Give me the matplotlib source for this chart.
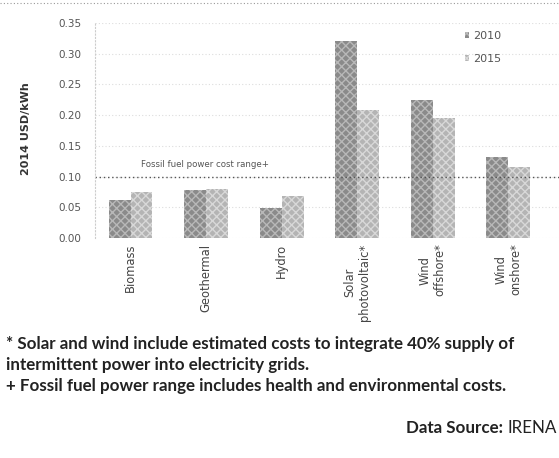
import matplotlib.pyplot as plt
import numpy as np

# values (2014 USD/kWh)
categories = ["Biomass", "Geothermal", "Hydro", "Solar\nphotovoltaic*",
              "Wind\noffshore*", "Wind\nonshore*"]
years = ["2010", "2015"]
cost_2010 = [0.062, 0.078, 0.049, 0.320, 0.224, 0.132]
cost_2015 = [0.075, 0.080, 0.069, 0.209, 0.195, 0.116]
fossil_low = 0.10
yticks = [0.00, 0.05, 0.10, 0.15, 0.20, 0.25, 0.30, 0.35]

notes = [
    "* Solar and wind include estimated costs to integrate 40% supply of",
    "intermittent power into electricity grids.",
    "+ Fossil fuel power range includes health and environmental costs.",
]

fig = plt.figure(figsize=(5.59, 4.58), dpi=100)
ax = fig.add_axes([0.170, 0.480, 0.830, 0.470])

x = np.arange(len(categories))
w = 0.29
ax.bar(x - w / 2, cost_2010, w, color="#8a8a8a", hatch="xxxx",
       edgecolor="#b8b8b8", linewidth=0, label=years[0])
ax.bar(x + w / 2, cost_2015, w, color="#b4b4b4", hatch="xxxx",
       edgecolor="#d8d8d8", linewidth=0, label=years[1])

ax.axhline(fossil_low, color="#555555", linestyle=(0, (1, 2)), linewidth=1)
ax.text(0.98, fossil_low + 0.012, "Fossil fuel power cost range+",
        ha="center", va="bottom", fontsize=6.2, color="#555555")

ax.set_xlim(-0.47, 5.67)
ax.set_ylim(0, 0.35)
ax.set_yticks(yticks)
ax.set_yticklabels([f"{v:.2f}" for v in yticks], fontsize=7.5, color="#555555")
ax.yaxis.grid(True, color="#dddddd", linestyle=(0, (1, 2)), linewidth=0.8)
ax.set_axisbelow(True)
ax.tick_params(axis="y", length=0, pad=10)

ax.set_xticks(x)
ax.set_xticklabels(categories, rotation=90, fontsize=8.3, color="#444444")
ax.tick_params(axis="x", length=0, pad=4)

for side in ["top", "right", "bottom"]:
    ax.spines[side].set_visible(False)
ax.spines["left"].set_color("#cccccc")
ax.spines["left"].set_linestyle((0, (1, 2)))

ax.set_ylabel("2014 USD/kWh", fontsize=8, fontweight="bold", color="#333333")
ax.yaxis.set_label_coords(-0.139, 0.507)

ax.legend(loc="upper left", bbox_to_anchor=(0.775, 1.01), frameon=False,
          fontsize=8, handlelength=0.4, handleheight=0.4, labelspacing=1.2,
          handletextpad=0.4, labelcolor="#555555")

# dotted rule along the top of the scan
fig.add_artist(plt.Line2D([0, 1], [0.994, 0.994], color="#999999",
                          linestyle=(0, (1, 2)), linewidth=0.8))

# footnotes: fit the first line to its width in the scan
renderer = fig.canvas.get_renderer()
probe = fig.text(0, 0, notes[0], fontsize=10, fontweight="bold", family="Lato")
size = 10 * 512 / probe.get_window_extent(renderer).width
probe.remove()
for i, line in enumerate(notes):
    fig.text(6 / 559, 1 - (344 + 21 * i) / 458, line, ha="left", va="center",
             fontsize=size, fontweight="bold", family="Lato", color="#222222")

irena = fig.text(557 / 559, 1 - 428 / 458, "IRENA", ha="right", va="center",
                 fontsize=size, family="Lato", color="#222222")
irena_w = irena.get_window_extent(renderer).width
fig.text((557 - irena_w) / 559, 1 - 428 / 458, "Data Source: ", ha="right",
         va="center", fontsize=size, fontweight="bold", family="Lato",
         color="#222222")

fig.savefig("out.png", dpi=100)
